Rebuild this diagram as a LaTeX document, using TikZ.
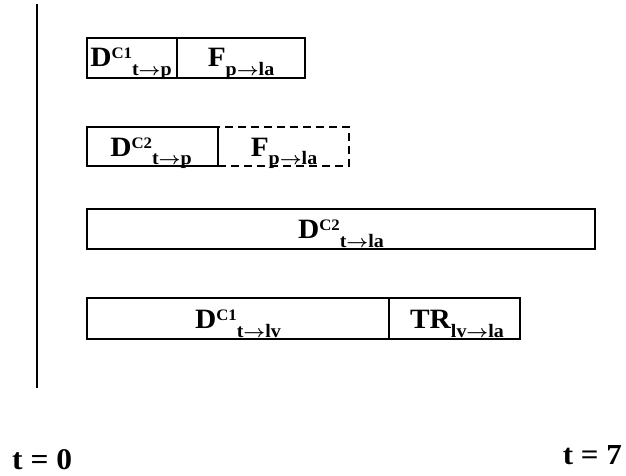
\documentclass[tikz,border=0pt]{standalone}
\usepackage{fontspec}
\setmainfont{Liberation Serif}
\usepackage{graphicx}
\newcommand\arr{\scalebox{1.05}[1]{\boldmath$\rightarrow$}}
\newcommand\boxlab[3]{\scalebox{1.05}[1]{\bfseries\fontsize{28}{28}\selectfont #1\raisebox{8pt}{\fontsize{16}{16}\selectfont #2}\raisebox{-9pt}{\fontsize{19}{19}\selectfont #3}}}
\begin{document}
\begin{tikzpicture}[x=1pt,y=-1pt,
  bar/.style={draw, line width=1.6pt, inner sep=0pt, outer sep=0pt, anchor=north west},
  dbar/.style={bar, dash pattern=on 8pt off 5pt},
  lab/.style={anchor=base, inner sep=0pt},
  tlab/.style={inner sep=0pt, font=\bfseries}]
\useasboundingbox (0,0) rectangle (626,476);
% time axis line
\coordinate (ltop) at (37,4);
\coordinate (lbot) at (37,388);
\draw[line width=2.3pt] (ltop) -- (lbot);
% row 1
\node[bar, minimum width=90pt, minimum height=40pt] (r1a) at (87,38) {};
\node[bar, minimum width=128pt, minimum height=40pt] (r1b) at (177,38) {};
\node[lab] (l1a) at (131,67) {\boxlab{D}{C1}{t\arr p}};
\node[lab] (l1b) at (241,67) {\boxlab{F}{}{p\arr la}};
% row 2
\node[bar, minimum width=131pt, minimum height=39pt] (r2a) at (87,127) {};
\node[dbar, minimum width=131pt, minimum height=39pt] (r2b) at (218,127) {};
\node[lab] (l2a) at (151,156) {\boxlab{D}{C2}{t\arr p}};
\node[lab] (l2b) at (284,156) {\boxlab{F}{}{p\arr la}};
% row 3
\node[bar, minimum width=508pt, minimum height=40pt] (r3) at (87,209) {};
\node[lab] (l3) at (341,238) {\boxlab{D}{C2}{t\arr la}};
% row 4
\node[bar, minimum width=302pt, minimum height=41pt] (r4a) at (87,298) {};
\node[bar, minimum width=131pt, minimum height=41pt] (r4b) at (389,298) {};
\node[lab] (l4a) at (238,328) {\boxlab{D}{C1}{t\arr lv}};
\node[lab] (l4b) at (457,328) {\boxlab{TR}{}{lv\arr la}};
% time labels
\node[tlab, anchor=base west] (t0) at (12,469) {\scalebox{1.05}[1]{\fontsize{30}{30}\selectfont t = 0}};
\node[tlab, anchor=base east] (t7) at (622,464) {\scalebox{1.07}[1]{\fontsize{29}{29}\selectfont t = 7}};
\end{tikzpicture}
\end{document}
